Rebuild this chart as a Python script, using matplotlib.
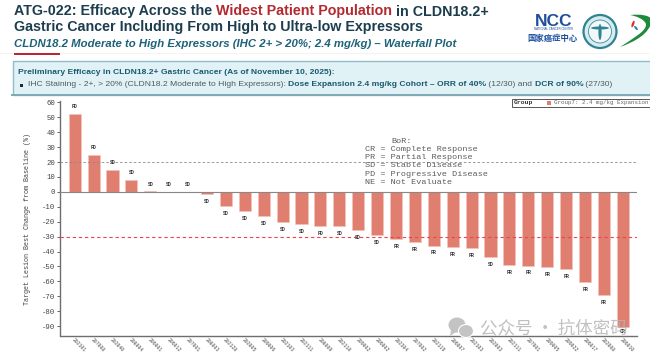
import matplotlib
matplotlib.use("Agg")
import matplotlib.pyplot as plt
from matplotlib.patches import Rectangle, Circle, Ellipse, Polygon, PathPatch
from matplotlib.path import Path

patient_ids = ["202101","207008","202040","208004","206001","206012","207001","208003","202128","202005",
               "209006","202103","202111","208009","202118","209002","206002","202304","207002","202119",
               "206007","202103","202003","202111","207001","209005","209022","206017","202008","206010"]
change_pct = [52, 25, 15, 8, 0.5, 0.2, 0.2, -1.5, -9.5, -13,
              -16, -20.4, -21.7, -22.6, -22.8, -25.7, -28.9, -31.5, -33.6, -36,
              -37, -37.8, -43.6, -49, -49.4, -50.5, -52, -60.4, -69, -90.4]
bor = ["PD", "PD", "SD", "SD", "SD", "SD", "SD", "SD", "SD", "SD",
       "SD", "SD", "SD", "PD", "SD", "SD", "SD", "PR", "PR", "PR",
       "PR", "PR", "SD", "PR", "PR", "PR", "PR", "PR", "PR", "CR"]
y_ticks = list(range(60, -100, -10))
legend_lines = ["BoR:", "CR = Complete Response", "PR = Partial Response", "SD = Stable Disease",
                "PD = Progressive Disease", "NE = Not Evaluate"]

W, H = 650, 355
SANS = "Liberation Sans"
MONO = "Liberation Mono"
BAR = "#e07f70"

fig = plt.figure(figsize=(W / 100, H / 100), dpi=100, facecolor="white")

# page layer in pixel coordinates
pg = fig.add_axes([0, 0, 1, 1], zorder=0)
pg.set_xlim(0, W)
pg.set_ylim(H, 0)
pg.axis("off")

# title block
navy = "#1c3d4e"
y1 = 11.5
TS = 10.25
t = pg.text(14, y1, "ATG-022: Efficacy Across the ", fontsize=TS, fontweight="bold", family=SANS, color=navy, va="center")
fig.canvas.draw()
r = fig.canvas.get_renderer()
def after(txt):
    return txt.get_window_extent(r).x1
t2 = pg.text(after(t), y1, "Widest Patient Population", fontsize=TS, fontweight="bold", family=SANS, color="#b22a30", va="center")
pg.text(after(t2), y1, " in CLDN18.2+", fontsize=TS, fontweight="bold", family=SANS, color=navy, va="center")
pg.text(14, 27, "Gastric Cancer Including From High to Ultra-low Expressors", fontsize=TS, fontweight="bold",
        family=SANS, color=navy, va="center")
pg.text(14, 44, "CLDN18.2 Moderate to High Expressors (IHC 2+ > 20%; 2.4 mg/kg) \u2013 Waterfall Plot", fontsize=8.2,
        fontweight="bold", style="italic", family=SANS, color="#1d6278", va="center")
pg.add_patch(Rectangle((0, 52.5), W, 1.2, color="#f3f3f3", lw=0))
pg.add_patch(Rectangle((14, 53), 46, 1.8, color="#b8282e", lw=0))

# highlighted box
pg.add_patch(Rectangle((12.5, 61), 645, 33.5, facecolor="#e0f2f6", edgecolor="#8fbcc8", lw=1.0))
pg.plot([12, W], [94.5, 94.5], color="#7fa9b5", lw=1.4)
pg.text(18, 72.5, "Preliminary Efficacy in CLDN18.2+ Gastric Cancer (As of November 10, 2025):", fontsize=6.1,
        fontweight="bold", family=SANS, color="#1b5a6e", va="center")
pg.add_patch(Rectangle((19.5, 83.5), 3.2, 3.2, color="#1c2b33", lw=0))
FS = 6.1
s1 = pg.text(28, 85, "IHC Staining - 2+, > 20% (CLDN18.2 Moderate to High Expressors): ", fontsize=FS, family=SANS,
             color="#4d5a60", va="center")
s2 = pg.text(after(s1), 85, "Dose Expansion 2.4 mg/kg Cohort \u2013 ORR of 40%", fontsize=FS, fontweight="bold", family=SANS,
             color="#1b5a6e", va="center")
s3 = pg.text(after(s2), 85, " (12/30) and ", fontsize=FS, family=SANS, color="#4d5a60", va="center")
s4 = pg.text(after(s3), 85, "DCR of 90%", fontsize=FS, fontweight="bold", family=SANS, color="#1b5a6e", va="center")
pg.text(after(s4), 85, " (27/30)", fontsize=FS, family=SANS, color="#4d5a60", va="center")

# logos
pg.text(553.5, 21, "NCC", fontsize=12.5, fontweight="bold", family=SANS, color="#1d4f9c", ha="center", va="center")
pg.text(553.5, 29.5, "NATIONAL CANCER CENTER", fontsize=2.1, family=SANS, color="#1d4f9c", ha="center", va="center")
pg.text(553, 38, "\u56fd\u5bb6\u764c\u75c7\u4e2d\u5fc3", fontsize=6, fontweight="bold", family="Noto Sans CJK SC",
        color="#1d4f9c", ha="center", va="center")
pg.add_patch(Circle((600, 31.5), 16.5, facecolor="#d8ebef", edgecolor="#2f8494", lw=1.6))
pg.add_patch(Circle((600, 31.5), 11.5, facecolor="#f2f8f9", edgecolor="#3a8b9a", lw=0.6))
pg.add_patch(Ellipse((600, 28), 18, 3, color="#2f8494", lw=0))
pg.add_patch(Ellipse((600, 32), 3.2, 16, color="#2f8494", lw=0))
swoosh = Path([(630, 15), (640, 14), (650, 15), (652, 20), (650, 34), (634, 42), (620, 47),
               (632, 39), (647, 31), (646, 24), (644, 19), (636, 16), (630, 15)],
              [Path.MOVETO, Path.CURVE4, Path.CURVE4, Path.CURVE4, Path.CURVE4, Path.CURVE4, Path.CURVE4,
               Path.CURVE4, Path.CURVE4, Path.CURVE4, Path.CURVE4, Path.CURVE4, Path.CURVE4])
pg.add_patch(PathPatch(swoosh, facecolor="#1f8a3e", edgecolor="none"))
pg.add_patch(Ellipse((633, 24), 2.4, 7, angle=20, color="#d9342b", lw=0))
pg.add_patch(Ellipse((636, 28), 2.2, 5, angle=-40, color="#2a7fb8", lw=0))

# waterfall axes : x 60.5..637 px, y 336..101 px
x0, x1, ytop, ybot = 60.5, 637, 101, 336
ax = fig.add_axes([x0 / W, 1 - ybot / H, (x1 - x0) / W, (ybot - ytop) / H], zorder=1)
ax.patch.set_alpha(0)
ax.set_ylim(-96.7, 61)
first, step = 74.7, 18.9
ax.set_xlim((x0 - first) / step, (x1 - first) / step)
xs = list(range(len(change_pct)))
ax.bar(xs, change_pct, width=0.64, color=BAR, edgecolor="#f3c5bc", linewidth=0.4, zorder=2)
ax.axhline(0, color="#888888", lw=0.8, zorder=3)
ax.axhline(20, color="#8a8a8a", lw=0.6, ls=(0, (3, 2.5)), zorder=3)
ax.axhline(-30, color="#e8464f", lw=0.8, ls=(0, (3, 2.5)), zorder=3)

for x, v, lab in zip(xs, change_pct, bor):
    yy = v + 5 if v > 0 else v - 5
    if 0 < v < 2:
        yy = 5
    if x == len(xs) - 1:
        yy = -94
    ax.text(x, yy, lab, fontsize=3.5, family=MONO, fontweight="bold", color="#333333", ha="center", va="center", zorder=4)

ax.set_xticks(xs)
ax.set_xticklabels(patient_ids, rotation=-45, ha="left", rotation_mode="anchor", fontsize=3.4, family=MONO, color="#444444")
ax.tick_params(axis="x", length=0, pad=1.0)
ax.set_yticks(y_ticks)
ax.set_yticklabels([str(v) for v in y_ticks], fontsize=5.2, family=MONO, color="#444444")
ax.tick_params(axis="y", length=2.5, width=0.7, color="#666666", pad=1.5)
for side in ("top", "right"):
    ax.spines[side].set_visible(False)
for side in ("left", "bottom"):
    ax.spines[side].set_color("#6e6e6e")
    ax.spines[side].set_linewidth(1.0)
ax.set_ylabel("Target Lesion Best Change from Baseline (%)", fontsize=4.9, family=MONO, color="#444444", labelpad=3)
ax.yaxis.set_label_coords((31 - x0) / (x1 - x0), 0.496)

# response key and legend
ov = fig.add_axes([0, 0, 1, 1], zorder=2)
ov.set_xlim(0, W)
ov.set_ylim(H, 0)
ov.axis("off")
pos = [(402, 141.5), (365, 149.5), (365, 157.5), (365, 165.5), (365, 174), (365, 182)]
for (px, py), line in zip(pos, legend_lines):
    ov.text(px, py, line, fontsize=6.1, family=MONO, color="#5c5c5c", ha="left" if px == 365 else "center", va="center")

ov.add_patch(Rectangle((511.5, 99), 145, 7.5, facecolor="white", edgecolor="#555555", lw=0.7))
ov.text(514, 102.8, "Group", fontsize=4.6, family=MONO, fontweight="bold", color="#333333", va="center")
ov.add_patch(Rectangle((546.5, 100.5), 4, 4.5, color=BAR, lw=0))
ov.text(554, 102.8, "Group7: 2.4 mg/kg Expansion", fontsize=4.2, family=MONO, color="#666666", va="center")

# watermark
ov.add_patch(Ellipse((457, 325), 17, 15, color="#bdbdbd", alpha=0.9, lw=0))
ov.add_patch(Polygon([(451, 330), (450, 336), (456, 332)], color="#bdbdbd", alpha=0.9, lw=0))
ov.add_patch(Ellipse((466, 331), 15, 13, facecolor="#c4c4c4", edgecolor="white", lw=0.8))
ov.text(480, 328, "\u516c\u4f17\u53f7 \u00b7 \u6297\u4f53\u5bc6\u7801", fontsize=12.6, family="Noto Sans CJK SC", color="#b5b5b5",
        alpha=0.85, va="center", ha="left")

fig.savefig("out.png", dpi=100, facecolor="white")
